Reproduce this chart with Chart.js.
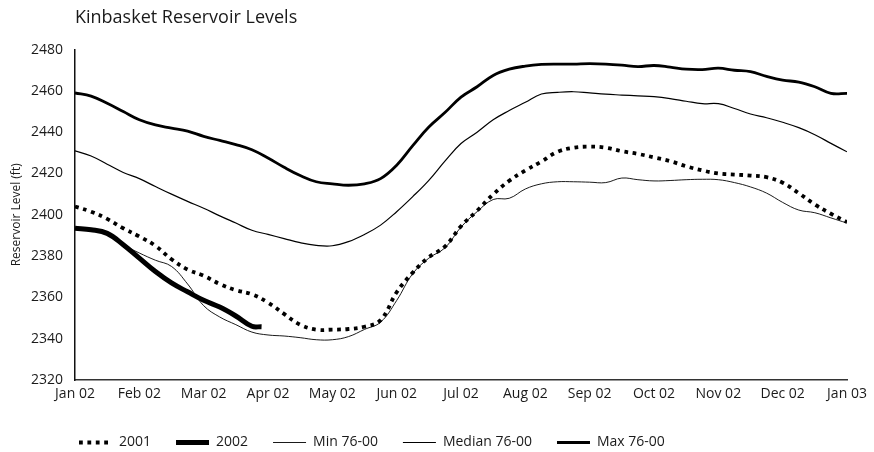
<!DOCTYPE html>
<html>
<head>
<meta charset="utf-8">
<script src="https://cdn.jsdelivr.net/npm/chart.js@4.4.1/dist/chart.umd.min.js"></script>
<style>
  html, body { margin: 0; padding: 0; background: #fff; }
  #wrap { width: 874px; height: 452px; }
</style>
</head>
<body>
<div id="wrap"><canvas id="levelsChart"></canvas></div>
<script>
// month tick labels, one per month start (0..12)
const monthLabels = ['Jan 02', 'Feb 02', 'Mar 02', 'Apr 02', 'May 02', 'Jun 02', 'Jul 02',
  'Aug 02', 'Sep 02', 'Oct 02', 'Nov 02', 'Dec 02', 'Jan 03'];

// sample positions, in months from Jan 02 (quarter-month steps)
const steps = [0, 0.25, 0.5, 0.75, 1, 1.25, 1.5, 1.75, 2, 2.25, 2.5, 2.75, 3, 3.25, 3.5, 3.75,
  4, 4.25, 4.5, 4.75, 5, 5.25, 5.5, 5.75, 6, 6.25, 6.5, 6.75, 7, 7.25, 7.5, 7.75,
  8, 8.25, 8.5, 8.75, 9, 9.25, 9.5, 9.75, 10, 10.25, 10.5, 10.75, 11, 11.25, 11.5, 11.75, 12];
const steps2002 = [0, 0.25, 0.5, 0.75, 1, 1.25, 1.5, 1.75, 2, 2.25, 2.5, 2.75, 2.9];

// reservoir levels (ft)
const level2001 = [2404, 2401.5, 2398, 2393.5, 2389.5, 2385, 2378.5, 2373.5, 2370.5, 2366.5, 2363.5, 2361.5,
  2357.5, 2352, 2346.8, 2344.4, 2344.4, 2344.7, 2345.8, 2349, 2362.5, 2372, 2379.5, 2384.6,
  2394.5, 2402, 2409.9, 2416.5, 2421.5, 2425.8, 2430.5, 2432.5, 2433, 2432.5, 2430.8, 2429.5,
  2427.8, 2426, 2423.5, 2421.5, 2420, 2419.5, 2419, 2418.2, 2415.5, 2410.5, 2405, 2400.5, 2396.5];
const level2002 = [2393.5, 2392.8, 2391, 2385.5, 2379, 2372.5, 2367, 2362.7, 2358.6, 2355.3, 2351, 2346, 2345.8];
const levelMin = [2393.5, 2392.7, 2391, 2385.5, 2381.5, 2378, 2375, 2366.5, 2356, 2350.5, 2346.8, 2343.2,
  2341.8, 2341.3, 2340.5, 2339.5, 2339.5, 2341, 2344.5, 2348, 2358.5, 2371.5, 2379, 2384,
  2394, 2401.5, 2407.4, 2408, 2412.5, 2415, 2416, 2416, 2415.8, 2415.6, 2417.8, 2417,
  2416.4, 2416.6, 2417, 2417.2, 2417, 2415.6, 2413.5, 2410.5, 2406, 2402.3, 2401, 2398.5, 2396];
const levelMedian = [2431, 2428.5, 2424.5, 2420.5, 2417.5, 2413.7, 2410, 2406.5, 2403.2, 2399.5, 2396, 2392.5,
  2390.5, 2388.5, 2386.5, 2385.2, 2385, 2387, 2390.5, 2395, 2401.5, 2408.8, 2416.7, 2426,
  2434.5, 2440, 2446, 2450.5, 2454.5, 2458.5, 2459.3, 2459.6, 2459, 2458.4, 2458, 2457.6,
  2457.2, 2456.3, 2455, 2453.8, 2453.8, 2451.5, 2448.8, 2447, 2444.8, 2442.2, 2438.8, 2434.6, 2430.5];
const levelMax = [2459, 2457.5, 2454, 2450, 2446, 2443.5, 2442, 2440.5, 2438, 2436, 2434, 2431.5,
  2427.5, 2423, 2419, 2416, 2415, 2414.3, 2415, 2417.5, 2424, 2433.5, 2442.5, 2449.5,
  2457, 2462, 2467.5, 2470.5, 2472, 2472.8, 2473, 2473, 2473.2, 2473, 2472.5, 2471.8,
  2472.3, 2471.5, 2470.5, 2470.3, 2471, 2470, 2469.3, 2467, 2465.2, 2464.3, 2462, 2458.8, 2458.8];

const yTicks = [2320, 2340, 2360, 2380, 2400, 2420, 2440, 2460, 2480];

function pts(xs, ys) {
  return xs.map((x, i) => ({ x: x, y: ys[i] }));
}

const FONT = 'Open Sans';
const INK = '#1a1a1a';

// moves the legend row left and a bit lower, like the original
const legendShift = {
  id: 'legendShift',
  beforeDraw(chart) {
    const lg = chart.legend;
    lg.left = 54;
    lg.top = 410.5;
    lg.bottom = 462;
  }
};

const ctx = document.getElementById('levelsChart').getContext('2d');
new Chart(ctx, {
  type: 'line',
  data: {
    datasets: [
      { label: '2001', data: pts(steps, level2001), borderColor: '#000', borderWidth: 3.8,
        borderDash: [3.8, 4.6], borderCapStyle: 'butt' },
      { label: '2002', data: pts(steps2002, level2002), borderColor: '#000', borderWidth: 5 },
      { label: 'Min 76-00', data: pts(steps, levelMin), borderColor: '#000', borderWidth: 0.9 },
      { label: 'Median 76-00', data: pts(steps, levelMedian), borderColor: '#000', borderWidth: 1.2 },
      { label: 'Max 76-00', data: pts(steps, levelMax), borderColor: '#000', borderWidth: 2.8 }
    ]
  },
  options: {
    responsive: true,
    maintainAspectRatio: false,
    animation: false,
    elements: {
      point: { radius: 0, hoverRadius: 0 },
      line: { tension: 0.4, fill: false }
    },
    layout: { padding: { top: 7, right: 27, left: 0, bottom: -1 } },
    plugins: {
      title: {
        display: true,
        text: 'Kinbasket Reservoir Levels',
        align: 'start',
        fullSize: false,
        color: INK,
        font: { family: FONT, size: 18, weight: 'normal' },
        padding: { top: 0, bottom: 21 }
      },
      legend: {
        position: 'bottom',
        align: 'start',
        labels: {
          color: INK,
          font: { family: FONT, size: 14 },
          usePointStyle: true,
          pointStyle: 'line',
          pointStyleWidth: 33,
          padding: 25,
          generateLabels(chart) {
            const items = Chart.defaults.plugins.legend.labels.generateLabels(chart);
            items.forEach(it => {
              const ds = chart.data.datasets[it.datasetIndex];
              it.lineDash = ds.borderDash || [];
              it.lineCap = 'butt';
            });
            return items;
          }
        }
      },
      tooltip: { enabled: false }
    },
    scales: {
      x: {
        type: 'linear',
        min: 0,
        max: 12,
        grid: { display: false, drawTicks: false },
        border: { display: true, color: '#333', width: 1.5 },
        ticks: {
          stepSize: 1,
          autoSkip: false,
          maxRotation: 0,
          padding: 6,
          color: INK,
          font: { family: FONT, size: 14 },
          callback: v => monthLabels[v]
        },
        afterFit: s => { s.height = 24; }
      },
      y: {
        min: 2320,
        max: 2480,
        grid: { display: false, drawTicks: false },
        border: { display: true, color: '#111', width: 1.5 },
        afterBuildTicks: s => { s.ticks = yTicks.map(v => ({ value: v })); },
        ticks: {
          padding: 12,
          color: INK,
          font: { family: FONT, size: 14 },
          callback: v => String(v)
        },
        title: {
          display: true,
          text: 'Reservoir Level (ft)',
          color: INK,
          font: { family: FONT, size: 12 },
          padding: { top: 9, bottom: 0 }
        },
        afterFit: s => { s.width = 75; }
      }
    }
  },
  plugins: [legendShift]
});
</script>
</body>
</html>
